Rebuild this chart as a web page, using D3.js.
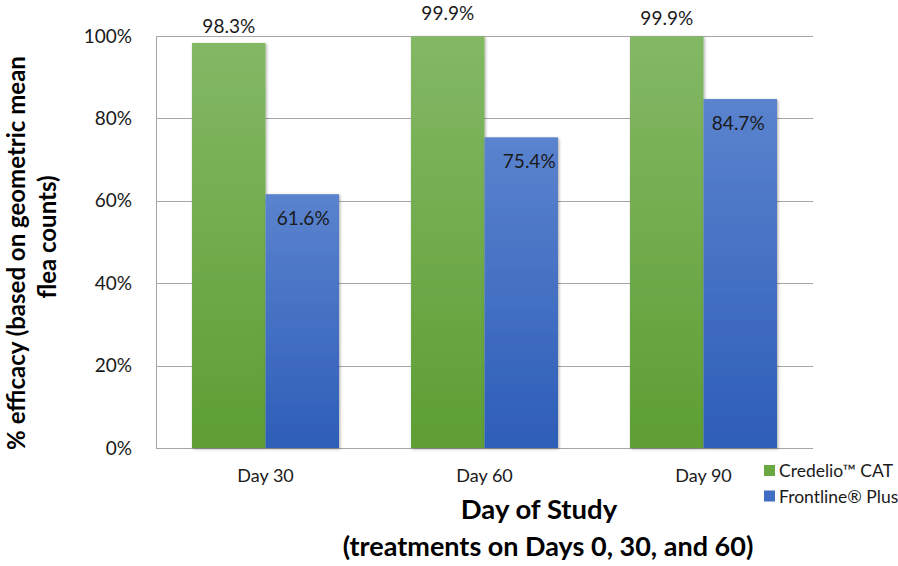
<!DOCTYPE html>
<html>
<head>
<meta charset="utf-8">
<script src="https://cdn.jsdelivr.net/npm/d3@7"></script>
<style>
  html, body { margin: 0; padding: 0; background: #fff; }
  svg { display: block; font-family: Lato, "Open Sans", sans-serif; }
</style>
</head>
<body>
<svg id="chart" width="898" height="566"></svg>
<script>
// ---- data ----
const categories = ["Day 30", "Day 60", "Day 90"];
const seriesNames = ["Credelio\u2122 CAT", "Frontline\u00AE Plus"];
const credelio = [98.3, 99.9, 99.9];
const frontline = [61.6, 75.4, 84.7];
const yTicks = [0, 20, 40, 60, 80, 100];
// label nudges (Excel manual placements)
const credelioLabelDy = [-18, -24, -19];
const frontlineLabelDx = [1, 8, -2];

(function () {
const svg = d3.select("#chart");
const pL = 156, pR = 813, pT = 36, pB = 448;

const x = d3.scaleBand().domain(categories).range([pL, pR]).padding(0);
const xs = d3.scaleBand().domain(seriesNames).range([0, x.bandwidth()])
  .paddingInner(0).paddingOuter(0.49);
const y = d3.scaleLinear().domain([0, 100]).range([pB, pT]);

const defs = svg.append("defs");
function grad(id, c1, c2) {
  const g = defs.append("linearGradient").attr("id", id)
    .attr("x1", 0).attr("y1", 0).attr("x2", 0).attr("y2", 1);
  g.append("stop").attr("offset", "0%").attr("stop-color", c1);
  g.append("stop").attr("offset", "100%").attr("stop-color", c2);
}
grad("gGreen", "#83b865", "#5e9e33");
grad("gBlue", "#5b83ce", "#2d5eb8");
const f = defs.append("filter").attr("id", "shadow")
  .attr("x", "-20%").attr("y", "-5%").attr("width", "140%").attr("height", "110%");
f.append("feDropShadow").attr("dx", 1).attr("dy", 1).attr("stdDeviation", 1.6)
  .attr("flood-color", "#000").attr("flood-opacity", 0.35);

// gridlines
svg.append("g").selectAll("line").data(yTicks).join("line")
  .attr("x1", pL).attr("x2", pR)
  .attr("y1", d => Math.round(y(d)) + 0.5).attr("y2", d => Math.round(y(d)) + 0.5)
  .attr("stroke", "#a6a6a6").attr("stroke-width", 1);
// left axis line
svg.append("line").attr("x1", pL + 0.5).attr("x2", pL + 0.5)
  .attr("y1", y(100)).attr("y2", y(0) + 0.5)
  .attr("stroke", "#a6a6a6");

// y axis
const yAxis = d3.axisLeft(y).tickValues(yTicks).tickFormat(d => d + "%").tickSize(0).tickPadding(24);
const ya = svg.append("g").attr("transform", `translate(${pL},0)`).call(yAxis);
ya.select(".domain").remove();
ya.selectAll("text").attr("font-size", 19).attr("fill", "#1a1a1a")
  .attr("font-family", "Lato, sans-serif");

// x axis labels
const xAxis = d3.axisBottom(x).tickSize(0).tickPadding(21);
const xa = svg.append("g").attr("transform", `translate(0,${pB})`).call(xAxis);
xa.select(".domain").remove();
xa.selectAll("text").attr("font-size", 18).attr("fill", "#1a1a1a")
  .attr("font-family", "Lato, sans-serif");

// bars
const groups = svg.append("g").selectAll("g").data(categories).join("g")
  .attr("transform", d => `translate(${x(d)},0)`);
groups.each(function(cat, i) {
  const g = d3.select(this);
  const vals = [credelio[i], frontline[i]];
  g.selectAll("rect").data(vals).join("rect")
    .attr("x", (v, j) => xs(seriesNames[j]))
    .attr("width", xs.bandwidth())
    .attr("y", v => y(v))
    .attr("height", v => y(0) - y(v))
    .attr("fill", (v, j) => j === 0 ? "url(#gGreen)" : "url(#gBlue)")
    .attr("filter", "url(#shadow)");
  g.append("text")
    .attr("x", xs(seriesNames[0]) + xs.bandwidth() / 2)
    .attr("y", y(credelio[i]) + credelioLabelDy[i])
    .attr("text-anchor", "middle").attr("dominant-baseline", "central")
    .attr("font-size", 19).attr("fill", "#1a1a1a")
    .text(credelio[i].toFixed(1) + "%");
  g.append("text")
    .attr("x", xs(seriesNames[1]) + xs.bandwidth() / 2 + frontlineLabelDx[i])
    .attr("y", y(frontline[i]) + 23)
    .attr("text-anchor", "middle").attr("dominant-baseline", "central")
    .attr("font-size", 19).attr("fill", "#1a1a1a")
    .text(frontline[i].toFixed(1) + "%");
});

// legend
const legend = svg.append("g").attr("transform", "translate(764,465)");
const colors = ["#6aa842", "#3f6fc4"];
seriesNames.forEach((s, i) => {
  legend.append("rect").attr("x", 0).attr("y", i * 25.5).attr("width", 11).attr("height", 11)
    .attr("fill", colors[i]);
  legend.append("text").attr("x", 15).attr("y", i * 25.5 + 5.5)
    .attr("dominant-baseline", "central").attr("font-size", 17.5).attr("fill", "#1a1a1a")
    .text(s);
});

// x axis title
svg.append("text").attr("x", 539).attr("y", 508).attr("text-anchor", "middle")
  .attr("dominant-baseline", "central").attr("font-weight", "bold").attr("font-size", 27.5)
  .attr("fill", "#000").text("Day of Study");
svg.append("text").attr("x", 548).attr("y", 545).attr("text-anchor", "middle")
  .attr("dominant-baseline", "central").attr("font-weight", "bold").attr("font-size", 27)
  .attr("fill", "#000").text("(treatments on Days 0, 30, and 60)");

// y axis title
svg.append("text").attr("transform", "translate(15,253) rotate(-90)")
  .attr("text-anchor", "middle").attr("dominant-baseline", "central")
  .attr("font-weight", "bold").attr("font-size", 24).attr("fill", "#000")
  .text("% efficacy (based on geometric mean");
svg.append("text").attr("transform", "translate(46,237) rotate(-90)")
  .attr("text-anchor", "middle").attr("dominant-baseline", "central")
  .attr("font-weight", "bold").attr("font-size", 24).attr("fill", "#000")
  .text("flea counts)");
})();
</script>
</body>
</html>
